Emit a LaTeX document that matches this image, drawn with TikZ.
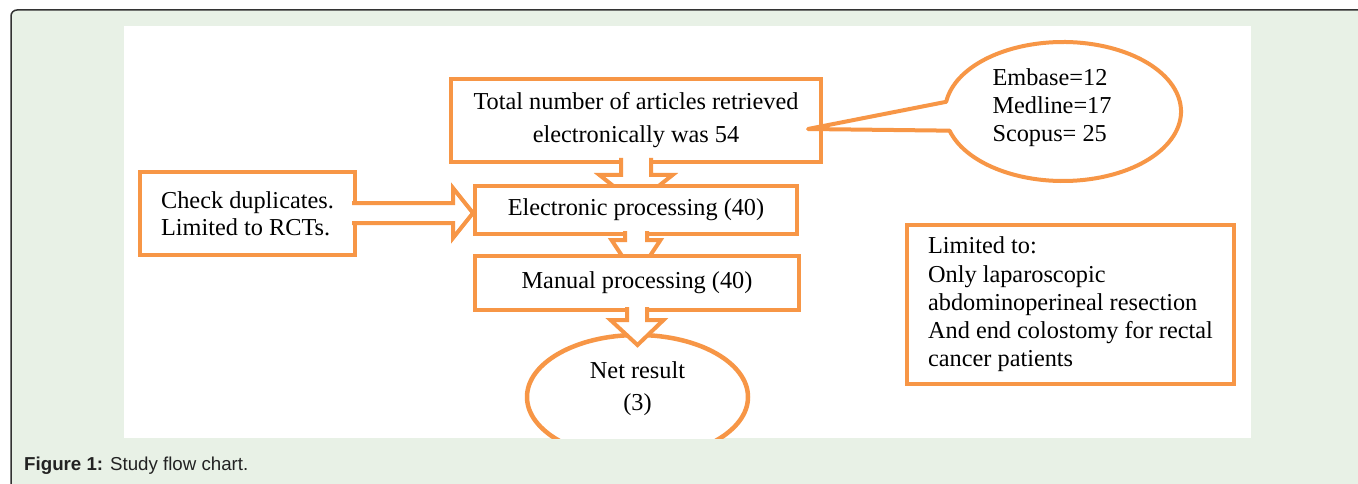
\documentclass[tikz,border=0pt]{standalone}
\usepackage{fontspec}
\setmainfont{Liberation Serif}
\newfontfamily\capfont{Liberation Sans}
\usetikzlibrary{shapes.geometric,calc}
\definecolor{orng}{HTML}{F79646}
\definecolor{panel}{HTML}{E8F1E6}
\definecolor{framec}{HTML}{333333}
\definecolor{captxt}{HTML}{222222}
\newcommand\bodyfs[1]{\fontsize{24.3}{#1}\selectfont}
\begin{document}
\begin{tikzpicture}[x=1pt,y=1pt,
  box/.style={draw=orng, line width=4.5pt, fill=white, inner sep=0pt, outer sep=0pt, align=center},
  barrow/.style={draw=orng, line width=4pt, fill=white, line join=miter},
  link/.style={draw=orng, line width=4pt},
  txt/.style={inner sep=0pt, outer sep=0pt}]
\useasboundingbox (0,0) rectangle (1358,-484);
\clip (0,0) rectangle (1358,-484);
% panel
\draw[draw=framec, fill=panel, line width=1.5pt, rounded corners=6pt] (11,-10) rectangle (1380,-520);
\fill[white] (124,-26) rectangle (1251,-438);
\begin{scope}
\clip (124,-26) rectangle (1251,-438);
% callout
\coordinate (cc) at (1063,-111.5);
\coordinate (tip) at (808,-129);
% top box
\node[box, minimum width=370pt, minimum height=83pt, font=\bodyfs{33}] (b1) at (636,-120.5)
  {Total number of articles retrieved\\electronically was 54};
\draw[link, fill=white, line join=round] (tip) -- ($(cc)+(196:118pt and 69.5pt)$)
  arc[start angle=196, end angle=532, x radius=118pt, y radius=69.5pt] -- cycle;
\node[txt, align=left, font=\bodyfs{28}] (src) at (1052,-108) {Embase=12\\Medline=17\\Scopus= 25};
% arrow 1
\draw[barrow] ($(b1.south)+(-15,4)$) -- ++(0,-17) -- ++(-21.5,0) -- ($(b1.south)+(0,-42)$)
  -- ($(b1.south)+(36.5,-13)$) -- ++(-21.5,0) -- ++(0,17);
% left box
\node[box, minimum width=215pt, minimum height=83pt, align=left, font=\bodyfs{27}] (lb) at (247.5,-213.5)
  {Check duplicates.\\Limited to RCTs.};
% box 2
\node[box, minimum width=322pt, minimum height=48pt, font=\bodyfs{30}] (b2) at (636,-210)
  {Electronic processing (40)};
% left arrow
\draw[barrow] ($(lb.east)+(-3,10.5)$) -- ++(101,0) -- ++(0,15) -- ++(20,-25)
  -- ++(-20,-25) -- ++(0,15) -- ++(-101,0);
% arrow 2
\draw[barrow] ($(b2.south)+(-11,3)$) -- ++(0,-9) -- ++(-13.5,0) -- ($(b2.south)+(0,-43)$)
  -- ($(b2.south)+(24.5,-6)$) -- ++(-13.5,0) -- ++(0,9);
% box 3
\node[box, minimum width=324pt, minimum height=54pt, font=\bodyfs{30}] (b3) at (637,-283)
  {Manual processing (40)};
% right box
\node[box, minimum width=327pt, minimum height=159pt, align=left, font=\bodyfs{28.2}] (lim) at (1070.5,-304.5)
  {Limited to:\\Only laparoscopic\\abdominoperineal resection\\And end colostomy for rectal\\cancer patients};
\draw[link] ($(b3.east)+(6,-19)$) -- ($(b3.east)+(6,-19)$ -| lim.west);
% net result
\node[ellipse, draw=orng, line width=4.5pt, fill=white, inner sep=0pt, outer sep=0pt,
  minimum width=221pt, minimum height=124pt] (net) at (637.5,-397) {};
\node[txt, align=center, font=\bodyfs{32}] (nettxt) at (637.5,-389) {Net result\\(3)};
% arrow 3
\draw[barrow] ($(b3.south)+(-10,3)$) -- ++(0,-13) -- ++(-16.5,0) -- (net.north |- 0,-345)
  -- ($(b3.south)+(26.5,-10)$) -- ++(-16.5,0) -- ++(0,13);
\end{scope}
% caption
\node[anchor=base west, inner sep=0pt, text=captxt, font=\capfont\fontsize{18.7}{20}\selectfont] (cap) at (24,-470)
  {\textbf{Figure 1:} Study flow chart.};
\end{tikzpicture}
\end{document}
